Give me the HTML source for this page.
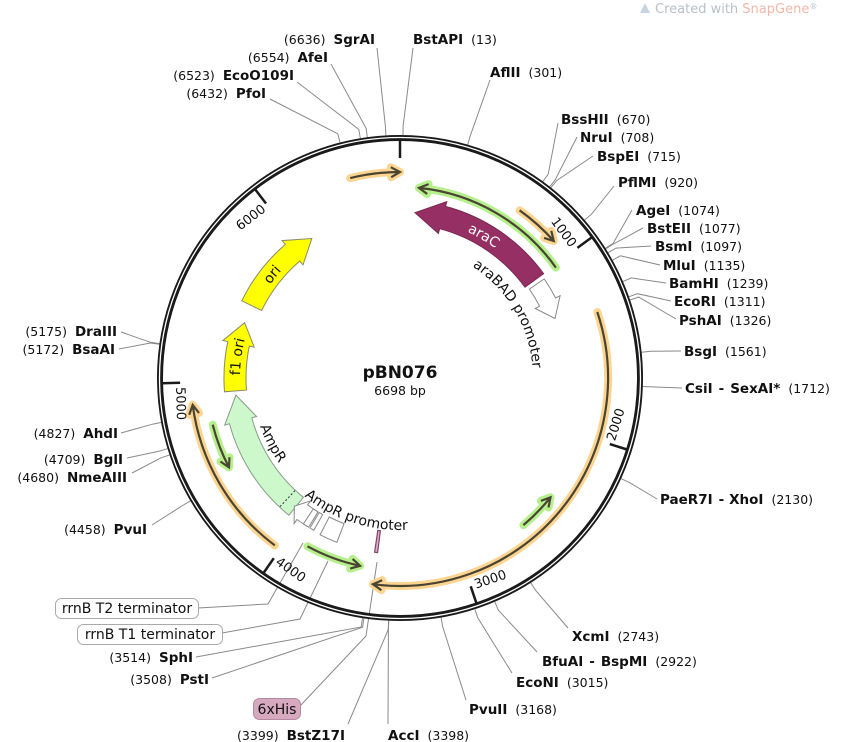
<!DOCTYPE html>
<html><head><meta charset="utf-8"><style>
html,body{margin:0;padding:0;background:#fff;}
svg{display:block;font-family:"DejaVu Sans","Liberation Sans",sans-serif;}
.n{font-size:12.5px;fill:#111;}
.b{font-size:13.5px;font-weight:bold;fill:#111;}
.t{font-size:13px;fill:#111;}
.f{font-size:14px;fill:#111;}
</style></head><body>
<svg id="s" width="848" height="742" viewBox="0 0 848 742" xmlns="http://www.w3.org/2000/svg">
<defs>
<path id="pAraC"/><path id="pOri"/><path id="pF1"/><path id="pBAD"/><path id="pAmp"/><path id="pAmpP"/>
</defs>
<g id="lines" stroke="#8a8a8a" stroke-width="1" fill="none"></g>
<g id="feat"></g>
<circle cx="400" cy="378" r="240" fill="none" stroke="#1a1a1a" stroke-width="6"/>
<circle cx="400" cy="378" r="240.5" fill="none" stroke="#fff" stroke-width="1.3"/>
<g id="ticks" stroke="#1a1a1a" stroke-width="2.5"></g>

<g class="t">
<text transform="translate(400,378) rotate(53.7) translate(0,-214)" x="-4" text-anchor="end">1000</text>
<text transform="translate(400,378) rotate(322.5) translate(0,-214)" x="-4" text-anchor="end">6000</text>
<text transform="translate(400,378) rotate(107.5) translate(0,-224) rotate(180)" x="4" text-anchor="start">2000</text>
<text transform="translate(400,378) rotate(161.2) translate(0,-224) rotate(180)" x="4" text-anchor="start">3000</text>
<text transform="translate(400,378) rotate(215) translate(0,-224) rotate(180)" x="4" text-anchor="start">4000</text>
<text transform="translate(400,378) rotate(268.7) translate(0,-224) rotate(180)" x="4" text-anchor="start">5000</text>
</g>

<text class="f" style="fill:#fff"><textPath href="#pAraC" startOffset="50%" text-anchor="middle">araC</textPath></text>
<text class="f"><textPath href="#pOri" startOffset="50%" text-anchor="middle">ori</textPath></text>
<text class="f"><textPath href="#pF1" startOffset="50%" text-anchor="middle">f1 ori</textPath></text>
<text class="f"><textPath href="#pBAD" startOffset="0">araBAD promoter</textPath></text>
<text class="f"><textPath href="#pAmp" startOffset="0">AmpR</textPath></text>
<text class="f"><textPath href="#pAmpP" startOffset="0">AmpR promoter</textPath></text>

<text x="400" y="378" text-anchor="middle" font-size="17" font-weight="bold" fill="#111">pBN076</text>
<text x="400" y="395" text-anchor="middle" font-size="12.5" fill="#111">6698 bp</text>

<text x="375" y="44" text-anchor="end"><tspan class="n">(6636)</tspan><tspan class="b" dx="8">SgrAI</tspan></text>
<text x="328" y="62" text-anchor="end"><tspan class="n">(6554)</tspan><tspan class="b" dx="8">AfeI</tspan></text>
<text x="294" y="80" text-anchor="end"><tspan class="n">(6523)</tspan><tspan class="b" dx="8">EcoO109I</tspan></text>
<text x="266" y="98" text-anchor="end"><tspan class="n">(6432)</tspan><tspan class="b" dx="8">PfoI</tspan></text>
<text x="117" y="336" text-anchor="end"><tspan class="n">(5175)</tspan><tspan class="b" dx="8">DraIII</tspan></text>
<text x="115" y="354" text-anchor="end"><tspan class="n">(5172)</tspan><tspan class="b" dx="8">BsaAI</tspan></text>
<text x="118" y="438" text-anchor="end"><tspan class="n">(4827)</tspan><tspan class="b" dx="8">AhdI</tspan></text>
<text x="123" y="464" text-anchor="end"><tspan class="n">(4709)</tspan><tspan class="b" dx="8">BglI</tspan></text>
<text x="127" y="482" text-anchor="end"><tspan class="n">(4680)</tspan><tspan class="b" dx="8">NmeAIII</tspan></text>
<text x="147" y="534" text-anchor="end"><tspan class="n">(4458)</tspan><tspan class="b" dx="8">PvuI</tspan></text>
<text x="193" y="662" text-anchor="end"><tspan class="n">(3514)</tspan><tspan class="b" dx="8">SphI</tspan></text>
<text x="209" y="684" text-anchor="end"><tspan class="n">(3508)</tspan><tspan class="b" dx="8">PstI</tspan></text>
<text x="345" y="740" text-anchor="end"><tspan class="n">(3399)</tspan><tspan class="b" dx="8">BstZ17I</tspan></text>

<text x="413" y="44"><tspan class="b">BstAPI</tspan><tspan class="n" dx="8">(13)</tspan></text>
<text x="490" y="77"><tspan class="b">AflII</tspan><tspan class="n" dx="8">(301)</tspan></text>
<text x="561" y="124"><tspan class="b">BssHII</tspan><tspan class="n" dx="8">(670)</tspan></text>
<text x="580" y="142"><tspan class="b">NruI</tspan><tspan class="n" dx="8">(708)</tspan></text>
<text x="597" y="161"><tspan class="b">BspEI</tspan><tspan class="n" dx="8">(715)</tspan></text>
<text x="618" y="187"><tspan class="b">PflMI</tspan><tspan class="n" dx="8">(920)</tspan></text>
<text x="636" y="215"><tspan class="b">AgeI</tspan><tspan class="n" dx="8">(1074)</tspan></text>
<text x="647" y="233"><tspan class="b">BstEII</tspan><tspan class="n" dx="8">(1077)</tspan></text>
<text x="655" y="251"><tspan class="b">BsmI</tspan><tspan class="n" dx="8">(1097)</tspan></text>
<text x="663" y="270"><tspan class="b">MluI</tspan><tspan class="n" dx="8">(1135)</tspan></text>
<text x="669" y="288"><tspan class="b">BamHI</tspan><tspan class="n" dx="8">(1239)</tspan></text>
<text x="674" y="306"><tspan class="b">EcoRI</tspan><tspan class="n" dx="8">(1311)</tspan></text>
<text x="679" y="325"><tspan class="b">PshAI</tspan><tspan class="n" dx="8">(1326)</tspan></text>
<text x="684" y="356"><tspan class="b">BsgI</tspan><tspan class="n" dx="8">(1561)</tspan></text>
<text x="685" y="393"><tspan class="b">CsiI</tspan><tspan class="b" dx="6">-</tspan><tspan class="b" dx="6">SexAI*</tspan><tspan class="n" dx="8">(1712)</tspan></text>
<text x="660" y="504"><tspan class="b">PaeR7I</tspan><tspan class="b" dx="6">-</tspan><tspan class="b" dx="6">XhoI</tspan><tspan class="n" dx="8">(2130)</tspan></text>
<text x="572" y="641"><tspan class="b">XcmI</tspan><tspan class="n" dx="8">(2743)</tspan></text>
<text x="542" y="666"><tspan class="b">BfuAI</tspan><tspan class="b" dx="6">-</tspan><tspan class="b" dx="6">BspMI</tspan><tspan class="n" dx="8">(2922)</tspan></text>
<text x="516" y="687"><tspan class="b">EcoNI</tspan><tspan class="n" dx="8">(3015)</tspan></text>
<text x="469" y="714"><tspan class="b">PvuII</tspan><tspan class="n" dx="8">(3168)</tspan></text>
<text x="388" y="740"><tspan class="b">AccI</tspan><tspan class="n" dx="8">(3398)</tspan></text>

<rect x="55.5" y="598.5" width="143" height="20" rx="6" fill="#fff" stroke="#aaa"/>
<text x="127" y="613" text-anchor="middle" class="f">rrnB T2 terminator</text>
<rect x="77.5" y="624.5" width="145" height="20" rx="6" fill="#fff" stroke="#aaa"/>
<text x="150" y="639" text-anchor="middle" class="f">rrnB T1 terminator</text>
<rect x="253.5" y="698.5" width="47" height="21" rx="6" fill="#d7a9bf" stroke="#b58aa0"/>
<text x="277" y="714" text-anchor="middle" class="f">6xHis</text>

<path d="M640 13 L645 3 L650 13 Z" fill="#c8d4e0"/>
<text x="655" y="13" font-size="13" fill="#b9c0c8">Created with <tspan fill="#f2b7a8">SnapGene</tspan><tspan font-size="8" dy="-4">®</tspan></text>

<script>
(function(){
const C=[400,378],NS="http://www.w3.org/2000/svg";
function P(r,a){a=a*Math.PI/180;return [C[0]+r*Math.sin(a),C[1]-r*Math.cos(a)];}
function f(p){return p[0].toFixed(1)+' '+p[1].toFixed(1);}
function arc(r,a1,a2){const sw=a2>a1?1:0,lg=Math.abs(a2-a1)>180?1:0;return 'A'+r+' '+r+' 0 '+lg+' '+sw+' '+f(P(r,a2));}
function el(g,tag,at){const e=document.createElementNS(NS,tag);for(const k in at)e.setAttribute(k,at[k]);document.getElementById(g).appendChild(e);return e;}
function block(r,w,tail,tip,hl){const dir=tip>tail?1:-1,hb=tip-dir*hl/r*180/Math.PI,ro=r+w/2,ri=r-w/2;
 return 'M'+f(P(ro,tail))+arc(ro,tail,hb)+'L'+f(P(ro+5,hb))+'L'+f(P(r,tip))+'L'+f(P(ri-5,hb))+'L'+f(P(ri,hb))+arc(ri,hb,tail)+'Z';}
function primer(r,tail,tip,glow){const dir=tip>tail?1:-1,d=9/r*180/Math.PI;
 const p='M'+f(P(r,tail))+arc(r,tail,tip)+'M'+f(P(r+5,tip-dir*d))+'L'+f(P(r,tip))+'L'+f(P(r-5,tip-dir*d));
 el('feat','path',{d:p,fill:'none',stroke:glow,'stroke-width':8,'stroke-linejoin':'round','stroke-linecap':'round'});
 el('feat','path',{d:p,fill:'none',stroke:'#4a4433','stroke-width':2.2,'stroke-linejoin':'miter'});}
const OR='#fdd591',GR='#b6f08c';
primer(206,346,360,OR);
primer(191,54.7,5.7,GR);
primer(206,35.5,48.3,OR);
primer(208,71.5,187.5,OR);
primer(192,140,128.4,GR);
primer(192,208.8,192,GR);
primer(209,216.8,262.6,OR);
primer(193,256,242.4,GR);
el('feat','path',{d:block(166,23,54,5.2,28),fill:'#962f63',stroke:'#7a2650','stroke-width':1});
el('feat','path',{d:block(166,18,55.5,69,18),fill:'#fff',stroke:'#888','stroke-width':1});
el('feat','path',{d:block(165,23,219,264,26),fill:'#ccf8cc',stroke:'#8a9a8a','stroke-width':1});
el('feat','path',{d:block(165,22,265.5,289.6,22),fill:'#ffff00',stroke:'#8a8a6a','stroke-width':1});
el('feat','path',{d:block(165,22,296,327.7,24),fill:'#ffff00',stroke:'#8a8a6a','stroke-width':1});
el('feat','path',{d:'M'+f(P(154,223))+'L'+f(P(177,223)),stroke:'#333','stroke-width':1,'stroke-dasharray':'2 2'});
el('feat','path',{d:block(166,18,212,219.5,10),fill:'#fff',stroke:'#888','stroke-width':1});
el('feat','path',{d:'M'+f(P(157,213.5))+'L'+f(P(175,213.5))+'L'+f(P(175,211.5))+'L'+f(P(157,211.5))+'Z M'+f(P(157,211))+'L'+f(P(175,211))+'L'+f(P(175,209.5))+'L'+f(P(157,209.5))+'Z',fill:'#fff',stroke:'#888','stroke-width':1});
el('feat','path',{d:'M'+f(P(156,207))+arc(156,207,201)+'L'+f(P(176,201))+arc(176,201,207)+'Z',fill:'#fff',stroke:'#888','stroke-width':1});
el('feat','path',{d:'M'+f(P(154,188.3))+'L'+f(P(176,188.3))+'L'+f(P(176,187.3))+'L'+f(P(154,187.3))+'Z',fill:'#e0a8c8',stroke:'#7a4a66','stroke-width':1.2});
[0,1000,2000,3000,4000,5000,6000].forEach(b=>{const a=b/6698*360;el('ticks','path',{d:'M'+f(P(238,a))+'L'+f(P(220,a))});});
function setp(id,r,a1,a2){document.getElementById(id).setAttribute('d','M'+f(P(r,a1))+arc(r,a1,a2));}
setp('pAraC',161,5,56);
setp('pOri',160,292,326);
setp('pF1',160,264,291);
setp('pBAD',133,33,100);
setp('pAmp',148,251,212);
setp('pAmpP',152,219,145);
const L=[[6636,377,48],[13,413,48],[6554,331,64],[6523,297,82],[6432,270,99],[301,490,80],
[670,558,123],[708,577,137],[715,593,156],[920,614,186],[1074,632,210],[1077,643,228],[1097,651,246],[1135,660,265],[1239,666,283],[1311,671,301],[1326,676,319],[1561,681,351],[1712,682,388],[2130,657,499],
[2743,568,628],[2922,537,652],[3015,512,673],[3168,466,700],[3398,388,724],[3399,348,724],[3514,196,657],[3508,212,678],
[5175,121,332],[5172,119,349],[4827,121,433],[4709,127,458],[4680,132,473],[4458,152,525]];
L.forEach(([b,x,y])=>{const a=b/6698*360;el('lines','polyline',{points:f(P(243,a))+' '+f(P(252,a))+' '+x+' '+y});});
el('lines','polyline',{points:'300,706 366,636 377,562'});
el('lines','polyline',{points:'198,608 268,604 303,543'});
el('lines','polyline',{points:'222,633 300,619 328,561'});
})();
</script>
</svg>
</body></html>
